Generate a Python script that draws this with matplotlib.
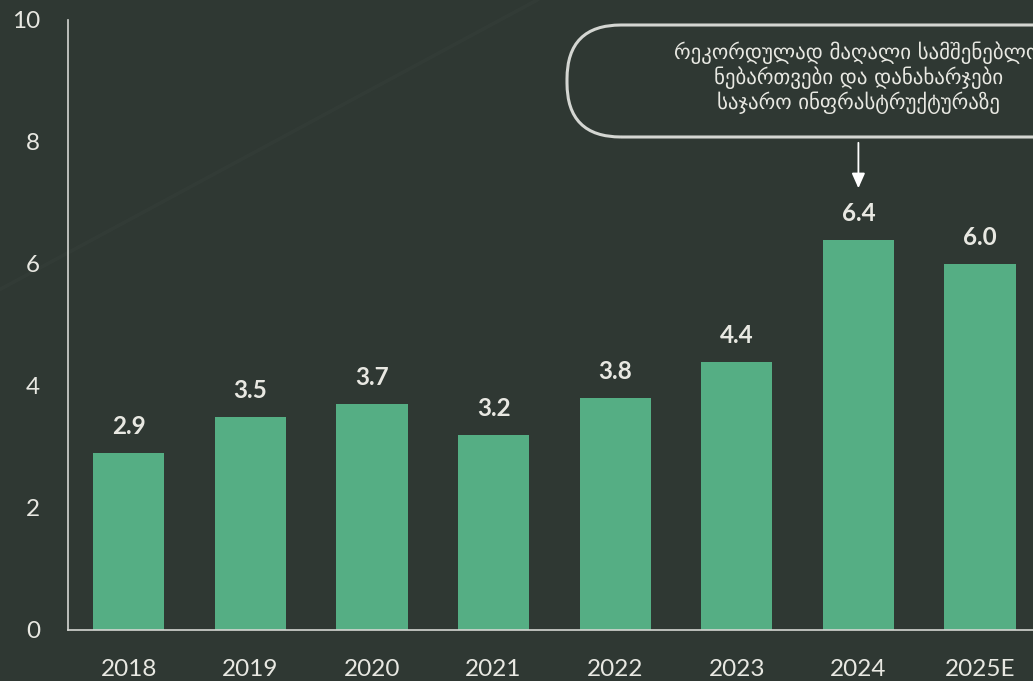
import matplotlib
matplotlib.use("Agg")
import matplotlib.pyplot as plt
from matplotlib.patches import FancyBboxPatch
from matplotlib.transforms import IdentityTransform

# data
years = ["2018", "2019", "2020", "2021", "2022", "2023", "2024", "2025E"]
values = [2.9, 3.5, 3.7, 3.2, 3.8, 4.4, 6.4, 6.0]
y_ticks = [0, 2, 4, 6, 8, 10]
note_text = ("რეკორდულად მაღალი სამშენებლო\n"
             "ნებართვები და დანახარჯები\n"
             "საჯარო ინფრასტრუქტურაზე")
note_bar = 6

BG = "#2f3833"
BAR = "#55ae84"
TXT = "#e8e8e2"
LINE = "#d4d6d2"

plt.rcParams["font.family"] = ["Lato", "DejaVu Sans"]

W, H = 1033, 681
fig = plt.figure(figsize=(W / 100, H / 100), dpi=100, facecolor=BG)

# faint diagonal streak in the background
fig.add_artist(plt.Line2D([0, 0.52], [0.575, 1.0], transform=fig.transFigure,
                          color="#3b4540", lw=2.5, alpha=0.3, zorder=0))

ax = fig.add_axes([68 / W, 51 / H, (W - 68) / W, 610 / H])
ax.set_facecolor("none")

x = range(len(years))
bars = ax.bar(x, values, width=0.585, color=BAR, zorder=2)

for xi, v in zip(x, values):
    ax.annotate(f"{v:.1f}", (xi, v), xytext=(0, 19), textcoords="offset points",
                ha="center", va="center", fontsize=17.5, fontweight="bold", color=TXT)

ax.set_xlim(-0.5, (W - 68) / 121.6 - 0.5)
ax.set_ylim(0, 10)
ax.set_xticks(list(x))
ax.set_xticklabels(years)
ax.set_yticks(y_ticks)
ax.set_yticklabels([str(t) for t in y_ticks])
ax.tick_params(axis="both", length=0, labelsize=17.5, colors=TXT)
ax.tick_params(axis="x", pad=21)
ax.tick_params(axis="y", pad=20)

for side in ["top", "right"]:
    ax.spines[side].set_visible(False)
for side in ["left", "bottom"]:
    ax.spines[side].set_color(LINE)
    ax.spines[side].set_linewidth(1.2)

# callout pill box (pixel coords), runs past the right edge like the original
box = FancyBboxPatch((567, H - 137), 582, 112,
                     boxstyle="round,pad=0,rounding_size=54",
                     transform=IdentityTransform(), facecolor="none",
                     edgecolor=LINE, lw=2.2, zorder=5)
fig.add_artist(box)

ax.text(note_bar, (630 - 78) / 61, note_text, ha="center", va="center",
        fontsize=15, color=TXT, linespacing=1.15,
        family=["DejaVu Sans"], zorder=6, clip_on=False)

ax.annotate("", xy=(note_bar, (630 - 191) / 61), xytext=(note_bar, (630 - 140) / 61),
            arrowprops=dict(arrowstyle="-|>,head_length=0.9,head_width=0.4",
                            color="white", lw=1.3), annotation_clip=False)

fig.savefig("out.png", dpi=100, facecolor=BG)
